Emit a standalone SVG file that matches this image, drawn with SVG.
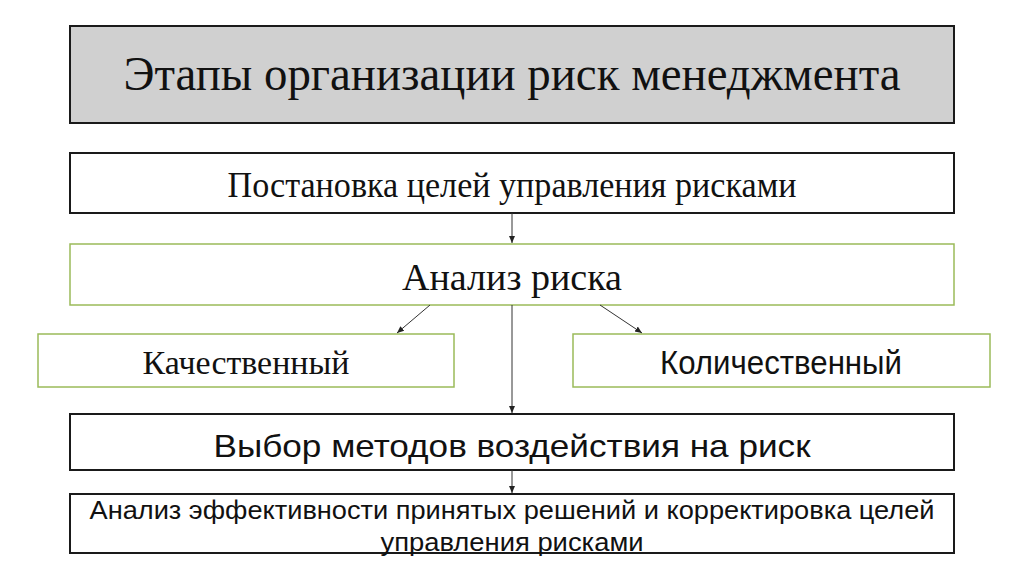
<svg xmlns="http://www.w3.org/2000/svg" width="1024" height="576" viewBox="0 0 1024 576">
<defs>
<marker id="ah" markerWidth="8" markerHeight="8" refX="7" refY="4" orient="auto" markerUnits="userSpaceOnUse">
<path d="M0,1 L7,4 L0,7 z" fill="#222"/>
</marker>
<style>
.dark{fill:#fff;stroke:#1a1a1a;stroke-width:2}
.green{fill:#fff;stroke:#9bbb59;stroke-width:1.5}
.serif{font-family:"Liberation Serif","Times New Roman",serif;fill:#111}
.sans{font-family:"Liberation Sans",Arial,sans-serif;fill:#111}
.conn{stroke:#333;stroke-width:1;fill:none;marker-end:url(#ah)}
</style>
</defs>
<rect width="1024" height="576" fill="#fff"/>
<g id="title">
<rect x="70" y="26" width="884" height="97" fill="#d0d0d0" stroke="#1a1a1a" stroke-width="2"/>
<text class="serif" x="512" y="90" font-size="48" text-anchor="middle" textLength="777" lengthAdjust="spacingAndGlyphs">Этапы организации риск менеджмента</text>
</g>
<g id="goals">
<rect class="dark" x="70" y="153" width="884" height="60"/>
<text class="serif" x="512" y="197" font-size="36" text-anchor="middle" textLength="569" lengthAdjust="spacingAndGlyphs">Постановка целей управления рисками</text>
</g>
<g id="analysis">
<rect class="green" x="70" y="244" width="884" height="61"/>
<text class="serif" x="512" y="290" font-size="38" text-anchor="middle" textLength="220" lengthAdjust="spacingAndGlyphs">Анализ риска</text>
</g>
<g id="qualitative">
<rect class="green" x="38" y="334" width="416" height="53"/>
<text class="serif" x="246" y="374" font-size="34" text-anchor="middle" textLength="207" lengthAdjust="spacingAndGlyphs">Качественный</text>
</g>
<g id="quantitative">
<rect class="green" x="573" y="334" width="417" height="53"/>
<text class="sans" x="781" y="374" font-size="33" text-anchor="middle" textLength="242" lengthAdjust="spacingAndGlyphs">Количественный</text>
</g>
<g id="methods">
<rect class="dark" x="70" y="414" width="884" height="56"/>
<text class="sans" x="512" y="457" font-size="32" text-anchor="middle" textLength="597" lengthAdjust="spacingAndGlyphs">Выбор методов воздействия на риск</text>
</g>
<g id="review">
<rect class="dark" x="70" y="494" width="884" height="59"/>
<text class="sans" x="512" y="519" font-size="25" text-anchor="middle" textLength="845" lengthAdjust="spacingAndGlyphs">Анализ эффективности принятых решений и корректировка целей</text>
<text class="sans" x="512" y="551" font-size="25" text-anchor="middle" textLength="263" lengthAdjust="spacingAndGlyphs">управления рисками</text>
</g>
<g id="connectors">
<line class="conn" x1="512" y1="213" x2="512" y2="243"/>
<line class="conn" x1="430" y1="305" x2="397" y2="333"/>
<line class="conn" x1="512" y1="305" x2="512" y2="413"/>
<line class="conn" x1="600" y1="305" x2="642" y2="333"/>
<line class="conn" x1="512" y1="470" x2="512" y2="493"/>
</g>
</svg>
